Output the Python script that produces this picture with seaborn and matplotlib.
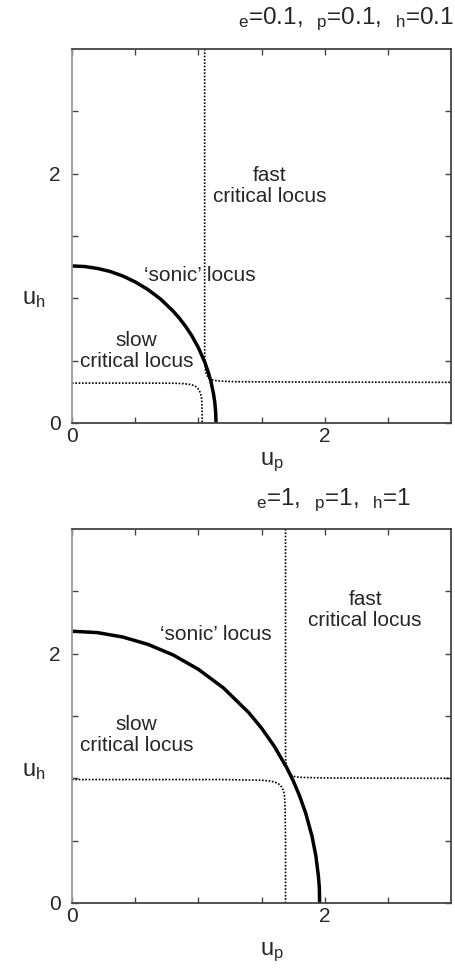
import matplotlib
matplotlib.use("Agg")
import matplotlib.pyplot as plt
import seaborn as sns

# ---------------- data ----------------
# top panel  (gamma = 0.1)
sonic1_up = [0.0, 0.1, 0.2, 0.3, 0.4, 0.5, 0.6, 0.7, 0.8, 0.85, 0.9, 0.95,
             1.0, 1.05, 1.08, 1.1, 1.12, 1.13, 1.137, 1.14]
sonic1_uh = [1.26, 1.255, 1.24, 1.216, 1.18, 1.132, 1.071, 0.995, 0.898, 0.84,
             0.774, 0.697, 0.605, 0.491, 0.403, 0.331, 0.235, 0.167, 0.09, 0.0]
slow1_up = [0.0, 0.6, 0.8, 0.88, 0.93, 0.96, 0.98, 0.995, 1.008, 1.018, 1.025,
            1.028, 1.03, 1.03]
slow1_uh = [0.32, 0.32, 0.319, 0.316, 0.31, 0.302, 0.292, 0.278, 0.26, 0.235,
            0.2, 0.16, 0.1, 0.0]
fast1_up = [1.05, 1.05, 1.052, 1.055, 1.062, 1.075, 1.095, 1.12, 1.17, 1.3,
            2.0, 3.0]
fast1_uh = [3.0, 0.6, 0.48, 0.43, 0.395, 0.37, 0.353, 0.343, 0.336, 0.331,
            0.328, 0.326]

# bottom panel (gamma = 1)
sonic2_up = [0.0, 0.2, 0.4, 0.6, 0.8, 1.0, 1.2, 1.4, 1.5, 1.6, 1.7, 1.75,
             1.8, 1.85, 1.9, 1.93, 1.95, 1.958, 1.96]
sonic2_uh = [2.18, 2.169, 2.134, 2.075, 1.99, 1.875, 1.724, 1.526, 1.403,
             1.259, 1.085, 0.982, 0.863, 0.72, 0.535, 0.38, 0.22, 0.12, 0.0]
slow2_up = [0.0, 1.2, 1.5, 1.57, 1.61, 1.64, 1.66, 1.675, 1.683, 1.687,
            1.69, 1.69]
slow2_uh = [0.99, 0.99, 0.985, 0.978, 0.968, 0.952, 0.93, 0.9, 0.85, 0.75,
            0.5, 0.0]
fast2_up = [1.69, 1.69, 1.692, 1.70, 1.715, 1.735, 1.76, 1.8, 2.0, 3.0]
fast2_uh = [3.0, 1.2, 1.13, 1.09, 1.055, 1.03, 1.015, 1.008, 1.003, 1.0]

titles = ["${}_{\\mathrm{e}}$=0.1,  ${}_{\\mathrm{p}}$=0.1,  ${}_{\\mathrm{h}}$=0.1",
          "${}_{\\mathrm{e}}$=1,  ${}_{\\mathrm{p}}$=1,  ${}_{\\mathrm{h}}$=1"]
xticks_major = [0, 2]
yticks_major = [0, 2]
ticks_minor = [0.5, 1.0, 1.5, 2.5]

# ---------------- style ----------------
sns.set_style("ticks")
plt.rcParams['font.family'] = ['Liberation Sans', 'DejaVu Sans']
plt.rcParams['mathtext.fontset'] = 'custom'
plt.rcParams['mathtext.rm'] = 'Liberation Sans'
plt.rcParams['mathtext.it'] = 'Liberation Sans'

W, H = 455, 968
fig = plt.figure(figsize=(W / 100, H / 100), dpi=100)

def ax_rect(left, top, right, bottom):
    return [left / W, 1 - bottom / H, (right - left) / W, (bottom - top) / H]

axes = [fig.add_axes(ax_rect(72, 49, 451, 423)),
        fig.add_axes(ax_rect(72, 529, 451, 903))]

panels = [
    (sonic1_up, sonic1_uh, slow1_up, slow1_uh, fast1_up, fast1_uh),
    (sonic2_up, sonic2_uh, slow2_up, slow2_uh, fast2_up, fast2_uh),
]

dot = (0, (1, 1))
for ax, (su, sh, lu, lh, fu, fh) in zip(axes, panels):
    sns.lineplot(x=lu, y=lh, sort=False, estimator=None, ax=ax, color='black',
                 linewidth=1.2, linestyle=dot)
    sns.lineplot(x=fu, y=fh, sort=False, estimator=None, ax=ax, color='black',
                 linewidth=1.2, linestyle=dot)
    sns.lineplot(x=su, y=sh, sort=False, estimator=None, ax=ax, color='black',
                 linewidth=2.5)
    ax.set_xlim(0, 3)
    ax.set_ylim(0, 3)
    ax.set_xticks(xticks_major)
    ax.set_yticks(yticks_major)
    ax.set_xticks(ticks_minor, minor=True)
    ax.set_yticks(ticks_minor, minor=True)
    ax.tick_params(which='both', direction='in', top=True, right=True,
                   length=4, width=1, color='#444444', labelsize=15)
    ax.tick_params(axis='x', pad=3)
    ax.tick_params(axis='y', pad=8)
    ax.set_xlabel('')
    ax.set_ylabel('')
    for s in ['top', 'right', 'bottom']:
        ax.spines[s].set_color('#444444')
        ax.spines[s].set_linewidth(1.3)
    ax.spines['left'].set_color('#999999')
    ax.spines['left'].set_linewidth(1.3)

fs = 15
ls = 1.15
a1, a2 = axes
a1.text(1.565, 1.90, "fast\ncritical locus", ha='center', va='center', fontsize=fs, linespacing=ls)
a1.text(1.01, 1.18, "\u2018sonic\u2019 locus", ha='center', va='center', fontsize=fs)
a1.text(0.51, 0.58, "slow\ncritical locus", ha='center', va='center', fontsize=fs, linespacing=ls)
a2.text(2.32, 2.35, "fast\ncritical locus", ha='center', va='center', fontsize=fs, linespacing=ls)
a2.text(1.14, 2.15, "\u2018sonic\u2019 locus", ha='center', va='center', fontsize=fs)
a2.text(0.51, 1.35, "slow\ncritical locus", ha='center', va='center', fontsize=fs, linespacing=ls)

lab_fs = 17
fig.text(34 / W, 1 - 299 / H, "u$_{\\mathrm{h}}$", ha='center', va='center', fontsize=lab_fs)
fig.text(34 / W, 1 - 771 / H, "u$_{\\mathrm{h}}$", ha='center', va='center', fontsize=lab_fs)
fig.text(272 / W, 1 - 462 / H, "u$_{\\mathrm{p}}$", ha='center', va='center', fontsize=lab_fs)
fig.text(272 / W, 1 - 952 / H, "u$_{\\mathrm{p}}$", ha='center', va='center', fontsize=lab_fs)

fig.text(346 / W, 1 - 19 / H, titles[0], ha='center', va='center', fontsize=17.5)
fig.text(334 / W, 1 - 500 / H, titles[1], ha='center', va='center', fontsize=17.5)

fig.savefig("out.png", dpi=100)
